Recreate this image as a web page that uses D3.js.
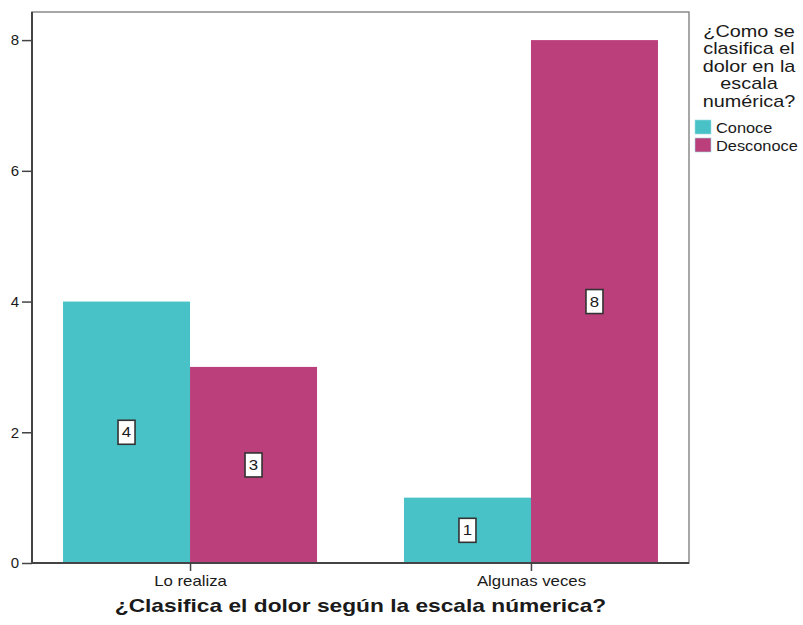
<!DOCTYPE html>
<html>
<head>
<meta charset="utf-8">
<script src="https://cdn.jsdelivr.net/npm/d3@7"></script>
<style>
  html, body { margin: 0; padding: 0; background: #fff; }
  svg { display: block; }
  text { font-family: "Liberation Sans", Arial, Helvetica, sans-serif; fill: #1a1a1a; }
</style>
</head>
<body>
<svg id="chart" width="803" height="625"></svg>
<script>
// Categories on the x axis
const categories = ["Lo realiza", "Algunas veces"];
// Legend series
const seriesNames = ["Conoce", "Desconoce"];
// Counts per category, one array per series
const conoceValues = [4, 1];
const desconoceValues = [3, 8];
// Y axis ticks
const yTicks = [0, 2, 4, 6, 8];
const seriesColors = ["#48c2c6", "#bb3f7b"];

const legendTitle = ["¿Como se", "clasifica el", "dolor en la", "escala", "numérica?"];
const xTitle = "¿Clasifica el dolor según la escala númerica?";

// Text in this chart is set in a horizontally widened face
const WIDE = 1.2;

const svg = d3.select("#chart");
const plot = { left: 32, right: 689, top: 12, bottom: 563 };

const y = d3.scaleLinear()
  .domain([0, 8.43])
  .range([plot.bottom, plot.top]);

const x0 = d3.scaleBand()
  .domain(categories)
  .range([plot.left, plot.right])
  .paddingInner(0.255)
  .paddingOuter(0.091);

const x1 = d3.scaleBand()
  .domain(seriesNames)
  .range([0, x0.bandwidth()]);

const color = d3.scaleOrdinal().domain(seriesNames).range(seriesColors);

const rows = categories.map((c, i) => ({
  category: c,
  values: [
    { series: seriesNames[0], value: conoceValues[i] },
    { series: seriesNames[1], value: desconoceValues[i] }
  ]
}));

// Plot frame (top and right edges)
svg.append("rect")
  .attr("x", plot.left).attr("y", plot.top)
  .attr("width", plot.right - plot.left).attr("height", plot.bottom - plot.top)
  .attr("fill", "none").attr("stroke", "#8a8a8a").attr("stroke-width", 1.5);

// Bars
const groups = svg.append("g").selectAll("g")
  .data(rows).join("g")
  .attr("transform", d => `translate(${x0(d.category)},0)`);

groups.selectAll("rect")
  .data(d => d.values).join("rect")
  .attr("x", d => x1(d.series))
  .attr("y", d => y(d.value))
  .attr("width", x1.bandwidth())
  .attr("height", d => y(0) - y(d.value))
  .attr("fill", d => color(d.series));

// Value labels in boxes, at half the bar height
const labels = groups.selectAll("g.lbl")
  .data(d => d.values).join("g")
  .attr("class", "lbl")
  .attr("transform", d => `translate(${x1(d.series) + x1.bandwidth() / 2},${y(d.value / 2)})`);

labels.append("rect")
  .attr("x", -8.5).attr("y", -12)
  .attr("width", 17).attr("height", 24)
  .attr("fill", "#fff").attr("stroke", "#333").attr("stroke-width", 1.6);

labels.append("text")
  .attr("text-anchor", "middle")
  .attr("dy", "0.36em")
  .attr("transform", `scale(${WIDE},1)`)
  .style("font-size", "14px")
  .text(d => d.value);

// Y axis
const yAxis = svg.append("g")
  .attr("transform", `translate(${plot.left},0)`)
  .call(d3.axisLeft(y).tickValues(yTicks).tickSize(10).tickPadding(3).tickFormat(d3.format("d")));
yAxis.select(".domain").attr("stroke", "#444").attr("stroke-width", 2)
  .attr("d", `M0,${plot.top}V${plot.bottom}`);
yAxis.selectAll(".tick line").attr("stroke", "#444").attr("stroke-width", 1.5);
yAxis.selectAll(".tick text").style("font-size", "15px").attr("fill", "#1a1a1a");

// X axis
const xCenters = d3.scalePoint().domain(categories)
  .range([x0(categories[0]) + x0.bandwidth() / 2, x0(categories[1]) + x0.bandwidth() / 2]);
const xAxis = svg.append("g")
  .attr("transform", `translate(0,${plot.bottom})`)
  .call(d3.axisBottom(xCenters).tickSize(8).tickPadding(5));
xAxis.select(".domain").attr("stroke", "#444").attr("stroke-width", 2)
  .attr("d", `M${plot.left},0H${plot.right}`);
xAxis.selectAll(".tick line").attr("stroke", "#444").attr("stroke-width", 1.5);
xAxis.selectAll(".tick text")
  .style("font-size", "14px")
  .attr("transform", `scale(${WIDE},1)`)
  .attr("fill", "#1a1a1a");

// X axis title
svg.append("g")
  .attr("transform", `translate(${(plot.left + plot.right) / 2},612) scale(1.3,1)`)
  .append("text")
  .attr("text-anchor", "middle")
  .style("font-size", "17.5px")
  .style("font-weight", "bold")
  .text(xTitle);

// Legend
const legend = svg.append("g");
legend.selectAll("g.title")
  .data(legendTitle).join("g")
  .attr("class", "title")
  .attr("transform", (d, i) => `translate(749,${36.5 + i * 17.6}) scale(1.24,1)`)
  .append("text")
  .attr("text-anchor", "middle")
  .style("font-size", "16px")
  .text(d => d);

const items = legend.selectAll("g.item")
  .data(seriesNames).join("g")
  .attr("class", "item")
  .attr("transform", (d, i) => `translate(695,${120 + i * 18})`);
items.append("rect")
  .attr("width", 16).attr("height", 14)
  .attr("fill", d => color(d))
  .attr("stroke", "#9fdde0").attr("stroke-width", 0.6);
items.append("g")
  .attr("transform", `translate(21,13) scale(1.17,1)`)
  .append("text")
  .style("font-size", "14px")
  .text(d => d);
</script>
</body>
</html>
